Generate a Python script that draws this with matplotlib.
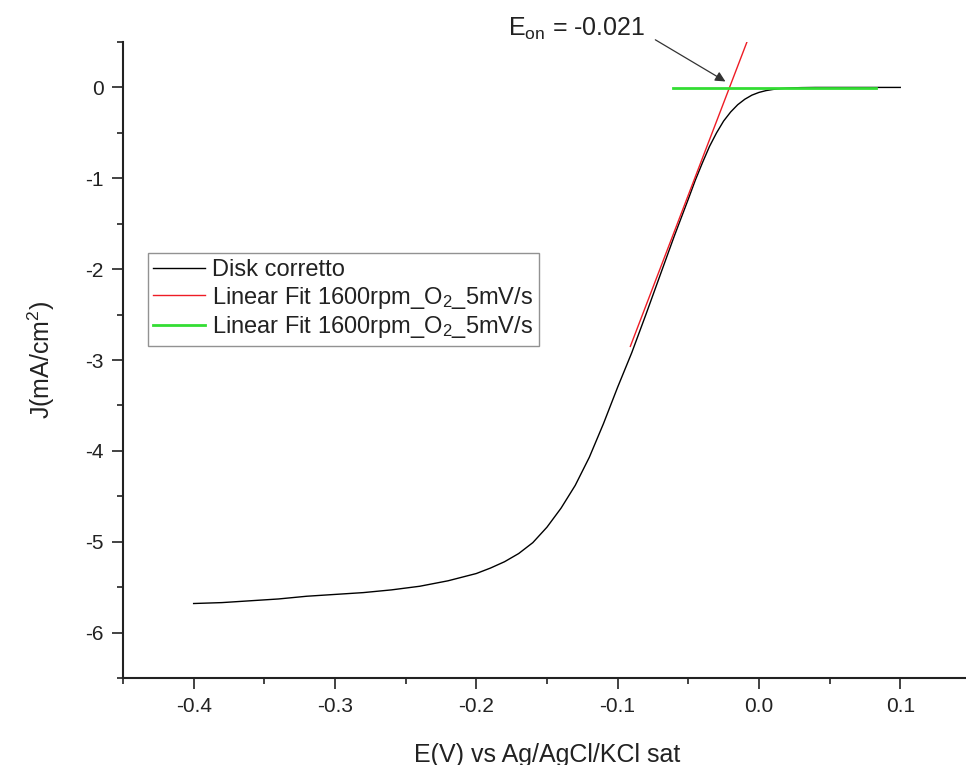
import matplotlib
matplotlib.use("Agg")
from matplotlib import pyplot as plt
from matplotlib.ticker import MultipleLocator

plt.rcParams['font.family'] = ['Liberation Sans', 'DejaVu Sans']
plt.rcParams['mathtext.fontset'] = 'custom'
plt.rcParams['mathtext.rm'] = 'Liberation Sans'
plt.rcParams['mathtext.it'] = 'Liberation Sans:italic'
plt.rcParams['axes.unicode_minus'] = False

# disk current
E_disk = [-0.400, -0.380, -0.360, -0.340, -0.320, -0.300, -0.280, -0.260, -0.240,
          -0.220, -0.200, -0.190, -0.180, -0.170, -0.160, -0.150, -0.140, -0.130,
          -0.120, -0.110, -0.100, -0.090, -0.080, -0.070, -0.060, -0.050, -0.045,
          -0.040, -0.035, -0.030, -0.025, -0.020, -0.015, -0.010, -0.005, 0.000,
          0.005, 0.010, 0.015, 0.020, 0.025, 0.030, 0.040, 0.050, 0.075, 0.100]
J_disk = [-5.68, -5.67, -5.65, -5.63, -5.60, -5.58, -5.56, -5.53, -5.49,
          -5.43, -5.35, -5.29, -5.22, -5.13, -5.01, -4.84, -4.63, -4.38,
          -4.07, -3.70, -3.30, -2.92, -2.50, -2.07, -1.64, -1.23, -1.02,
          -0.83, -0.65, -0.50, -0.37, -0.27, -0.19, -0.13, -0.085, -0.055,
          -0.035, -0.022, -0.013, -0.008, -0.004, -0.002, 0.0, 0.0, 0.0, 0.0]

# linear fits (end points)
E_fit1 = [-0.091, -0.008]
J_fit1 = [-2.85, 0.52]
E_fit2 = [-0.061, 0.083]
J_fit2 = [-0.005, -0.005]

E_on = -0.021

fig = plt.figure(figsize=(9.66, 7.65), dpi=100)
ax = fig.add_axes([0.1273, 0.1137, 0.8778, 0.8314])

ax.plot(E_disk, J_disk, color="black", lw=1.0, label="Disk corretto")
ax.plot(E_fit1, J_fit1, color="#ee1c25", lw=1.0, label="Linear Fit 1600rpm_O$_2$_5mV/s")
ax.plot(E_fit2, J_fit2, color="#33dd33", lw=2.0, label="Linear Fit 1600rpm_O$_2$_5mV/s")

ax.set_xlim(-0.45, 0.15)
ax.set_ylim(-6.5, 0.5)
ax.xaxis.set_major_locator(MultipleLocator(0.1))
ax.xaxis.set_minor_locator(MultipleLocator(0.05))
ax.yaxis.set_major_locator(MultipleLocator(1))
ax.yaxis.set_minor_locator(MultipleLocator(0.5))
ax.xaxis.set_major_formatter(plt.FuncFormatter(lambda v, p: "%.1f" % v))
ax.tick_params(which="major", direction="out", length=8, width=1.2, labelsize=15,
               pad=6, colors="#222222")
ax.tick_params(which="minor", direction="out", length=4.5, width=1.2, colors="#222222")

for s in ["top", "right"]:
    ax.spines[s].set_visible(False)
for s in ["left", "bottom"]:
    ax.spines[s].set_linewidth(1.5)
    ax.spines[s].set_color("#222222")

ax.set_xlabel("E(V) vs Ag/AgCl/KCl sat", fontsize=18, labelpad=19, color="#222222")
ax.set_ylabel("J(mA/cm$^2$)", fontsize=18, labelpad=20, color="#222222")

ax.text(-0.129, 0.64, r"E$_{\mathrm{on}}$ = %.3f" % E_on, fontsize=18,
        ha="center", va="center", clip_on=False, color="#222222")
ax.annotate("", xy=(E_on - 0.001, 0.05), xytext=(-0.075, 0.54),
            arrowprops=dict(arrowstyle="-|>", color="#333333", lw=0.9, mutation_scale=15),
            annotation_clip=False)

leg = ax.legend(loc="upper left", bbox_to_anchor=(0.029, 0.668), fontsize=17,
                frameon=True, fancybox=False, edgecolor="#777777",
                handlelength=2.2, handletextpad=0.3, borderpad=0.25, labelspacing=0.15,
                borderaxespad=0)
leg.get_frame().set_linewidth(1.0)
for t in leg.get_texts():
    t.set_color("#222222")

fig.savefig("out.png", dpi=100)
